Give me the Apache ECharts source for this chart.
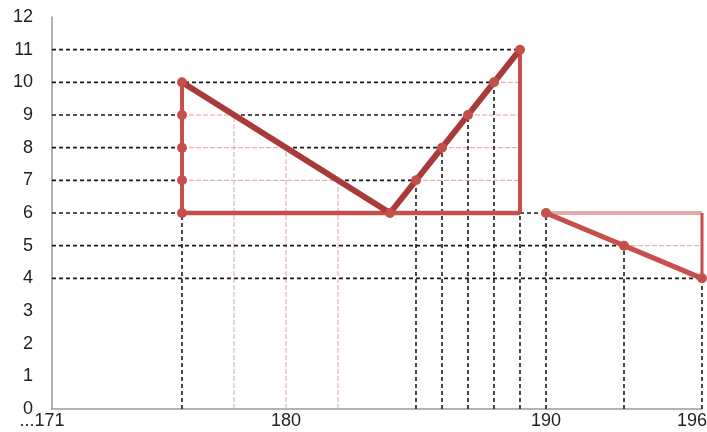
<!DOCTYPE html>
<html>
<head>
<meta charset="utf-8">
<script src="https://cdn.jsdelivr.net/npm/echarts@6/dist/echarts.min.js"></script>
<style>html,body{margin:0;padding:0;background:#fff}#c{width:707px;height:432px}</style>
</head>
<body>
<div id="c"></div>
<script>
// ---- data ----
const xLabels = [171, 180, 190, 196];
const yMin = 0, yMax = 12;

// red shape 1
const leftEdge = [[176,6],[176,7],[176,8],[176,9],[176,10]];
const descent = [[176,10],[184,6]];
const ascent = [[184,6],[185,7],[186,8],[187,9],[188,10],[189,11]];
const rightEdge = [[189,11],[189,6]];
const base = [[176,6],[189,6]];
// red shape 2
const tailSlope = [[190,6],[193,5],[196,4]];
const tailTop = [[190,6],[196,6]];
const tailEdge = [[196,6],[196,4]];

// guide lines: horizontal [y, xFrom, xTo]; vertical [x, yTo] (from 0)
const blackH = [[11,171,189],[10,171,188],[9,171,176],[9,178,187],[8,171,176],[8,180,186],[7,171,176],[7,182,185],[6,171,176],[6,189,190],[5,171,193],[4,171,196]];
const pinkH = [[10,188,189],[9,176,178],[9,187,189],[8,176,180],[8,186,189],[7,176,182],[7,185,189],[5,193,196]];
const blackV = [[176,6],[185,7],[186,8],[187,9],[188,10],[189,6],[190,6],[193,5],[196,4]];
const pinkV = [[178,9],[180,8],[182,7]];

// ---- build series ----
const series = [];
function seg(data, color, width, type, z) {
  series.push({type:'line', data:data, showSymbol:false, symbol:'none', silent:true, animation:false, z:z,
    lineStyle:{color:color, width:width, type:type}});
}
blackH.forEach(h => seg([[h[1],h[0]],[h[2],h[0]]], '#1a1a1a', 1.6, [4,3], 2));
blackV.forEach(v => seg([[v[0],0],[v[0],v[1]]], '#1a1a1a', 1.6, [4,3], 2));
pinkH.forEach(h => seg([[h[1],h[0]],[h[2],h[0]]], '#d9a3a3', 1, [5,2], 1));
pinkV.forEach(v => seg([[v[0],0],[v[0],v[1]]], '#d9a3a3', 1, [5,2], 1));

seg(tailTop, '#e5a9a8', 4, 'solid', 3);
seg(base, '#c64f4c', 4.5, 'solid', 4);
seg(rightEdge, '#c64f4c', 4, 'solid', 4);
seg(tailEdge, '#c64f4c', 3, 'solid', 4);
seg(descent, '#a83a37', 6, 'solid', 5);

function dotted(data, color, width, z) {
  series.push({type:'line', data:data, symbol:'circle', symbolSize:10, showSymbol:true, silent:true, animation:false, z:z,
    itemStyle:{color:'#c44f4b'}, lineStyle:{color:color, width:width}});
}
dotted(leftEdge, '#c64f4c', 4, 6);
dotted(ascent, '#a83a37', 6, 6);
dotted(tailSlope, '#c84e4b', 5, 6);

const chart = echarts.init(document.getElementById('c'), null, {renderer:'canvas'});
chart.setOption({
  animation:false,
  backgroundColor:'#ffffff',
  grid:{left:52, right:5, top:17, bottom:23, containLabel:false, outerBoundsMode:'none'},
  xAxis:{type:'value', min:171, max:196, interval:1,
    axisLine:{show:true, lineStyle:{color:'#9a9a9a', width:1.5}},
    axisTick:{show:false}, splitLine:{show:false},
    axisLabel:{customValues:xLabels, fontSize:18, color:'#222', fontFamily:'Liberation Sans', margin:3,
      alignMinLabel:'center', alignMaxLabel:'center', hideOverlap:false,
      formatter: v => v === 171 ? '{f|...171}' : (v === 196 ? '{f|196}' : String(v)),
      rich:{f:{fontSize:18, color:'#222', fontFamily:'Liberation Sans', padding:[0,20,0,0]}}}},
  yAxis:{type:'value', min:yMin, max:yMax, interval:1,
    axisLine:{show:true, lineStyle:{color:'#9a9a9a', width:1.5}},
    axisTick:{show:false}, splitLine:{show:false},
    axisLabel:{fontSize:18, color:'#222', fontFamily:'Liberation Sans', margin:19}},
  series:series
});
</script>
</body>
</html>
